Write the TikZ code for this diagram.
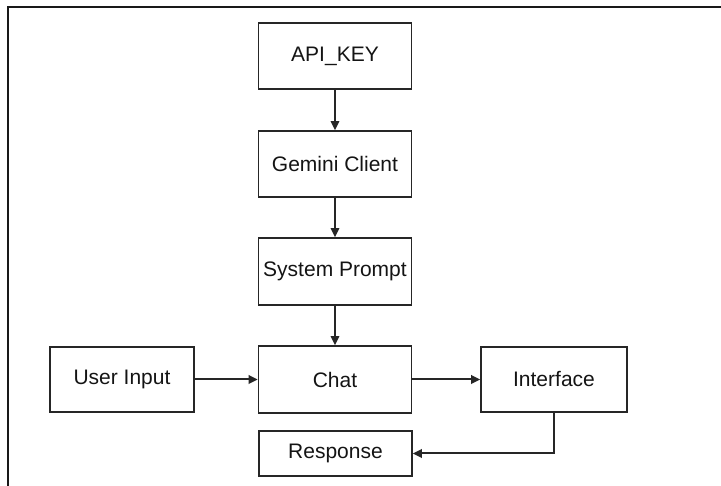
\documentclass[tikz,border=0pt]{standalone}
\usepackage{fontspec}
\setmainfont{Liberation Sans}
\usetikzlibrary{arrows.meta}
\begin{document}
\begin{tikzpicture}[x=1pt,y=-1pt,
  blk/.style={draw=black!85, line width=1.7pt, inner sep=0pt,
    minimum width=153pt, minimum height=66pt,
    font=\fontsize{21}{25}\selectfont, text=black!92},
  link/.style={draw=black!85, line width=1.5pt, -{Triangle[length=9pt,width=8.5pt]}},
  frameline/.style={draw=black!90, line width=2.4pt}]
\useasboundingbox (0,0) rectangle (721,486);
% outer frame (only its top and left edges fall inside the page)
\draw[frameline] (8,492) -- (8,7) -- (727,7);
% pipeline blocks
\node[blk] (key)    at (335,56)    {API\_KEY};
\node[blk] (client) at (335,164)   {Gemini Client};
\node[blk, minimum height=67pt] (prompt) at (335,271.5) {System Prompt};
\node[blk, minimum height=67pt] (chat)   at (335,379.5) {Chat};
\node[blk, minimum width=144pt, minimum height=65pt] (user)  at (122,379.5) {User Input};
\node[blk, minimum width=146pt, minimum height=65pt] (iface) at (554,379.5) {Interface};
\node[blk, minimum height=45pt] (resp) at (335.5,453.5) {Response};
% connectors
\draw[link] (key) -- (client);
\draw[link] (client) -- (prompt);
\draw[link] (prompt) -- (chat);
\draw[link, line width=2pt] (user) -- (chat);
\draw[link, line width=2pt] (chat) -- (iface);
\draw[link, line width=2pt] (iface.south) |- (resp.east);
\end{tikzpicture}
\end{document}
